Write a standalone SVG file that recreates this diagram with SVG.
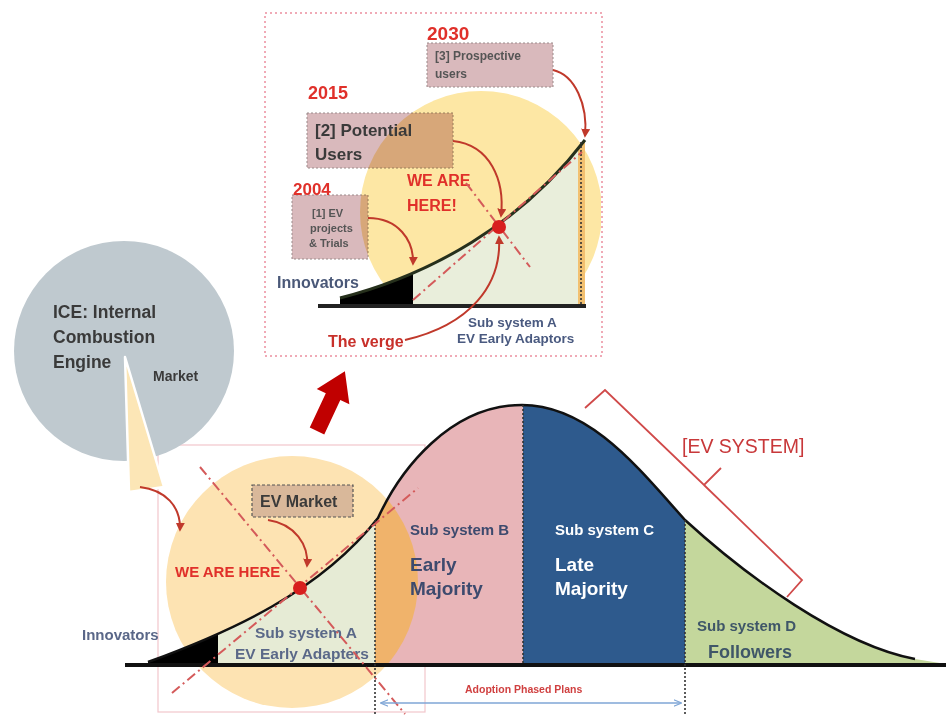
<svg xmlns="http://www.w3.org/2000/svg" xmlns:xlink="http://www.w3.org/1999/xlink" width="946" height="716" viewBox="0 0 946 716">
<style>
text{font-family:"Liberation Sans",Arial,sans-serif;font-weight:bold}
.red{fill:#e0302a}
.dark{fill:#3a3a3a}
.slate{fill:#4a5a80}
.box{fill:#d9b9bc;stroke:#9a8a8a;stroke-width:1;stroke-dasharray:2,2}
.dd{stroke:#d45a5a;stroke-width:2;fill:none;stroke-dasharray:10,4,2,4}
.carrow{stroke:#c0392b;stroke-width:2;fill:none;marker-end:url(#ah)}
.dot{stroke:#333;stroke-width:1.6;stroke-dasharray:2,2;fill:none}
</style>
<defs>
<marker id="ah" viewBox="0 0 10 10" refX="8" refY="5" markerWidth="9" markerHeight="9" markerUnits="userSpaceOnUse" orient="auto">
<path d="M0,0 L10,5 L0,10 z" fill="#c0392b"/>
</marker>
<marker id="ahb" viewBox="0 0 10 10" refX="9" refY="5" markerWidth="8" markerHeight="8" markerUnits="userSpaceOnUse" orient="auto-start-reverse">
<path d="M0,1 L10,5 L0,9" fill="none" stroke="#7fa6d6" stroke-width="1.5"/>
</marker>
<path id="bell" d="M148,662 C230,632 320,592 378,518 C400,470 450,405 522,405 C590,405 640,470 685,520 C745,575 840,645 915,659 L946,664 L946,665 L148,665 Z"/>
<path id="iarea" d="M340,306 L340,298 C430,275 520,225 585,140 L585,306 Z"/>
<clipPath id="bellClip"><use xlink:href="#bell"/></clipPath>
<clipPath id="insetClip"><rect x="266" y="14" width="335" height="291"/></clipPath>
<clipPath id="cInn"><rect x="100" y="380" width="118" height="300"/></clipPath>
<clipPath id="cA"><rect x="218" y="380" width="157" height="300"/></clipPath>
<clipPath id="cB"><rect x="375" y="380" width="148" height="300"/></clipPath>
<clipPath id="cC"><rect x="523" y="380" width="162" height="300"/></clipPath>
<clipPath id="cD"><rect x="685" y="380" width="261" height="300"/></clipPath>
<clipPath id="ciInn"><rect x="330" y="100" width="83" height="210"/></clipPath>
<clipPath id="ciA"><rect x="413" y="100" width="165" height="210"/></clipPath>
<clipPath id="ciO"><rect x="578" y="100" width="8" height="210"/></clipPath>
</defs>

<!-- ===== Inset (top) ===== -->
<g id="inset">
<rect x="265" y="13" width="337" height="343" fill="none" stroke="#ec8e9e" stroke-width="1.5" stroke-dasharray="2,3"/>
<g id="box2"><rect class="box" x="307" y="113" width="146" height="55"/></g>
<g id="box3"><rect class="box" x="427" y="43" width="126" height="44"/></g>
<g id="box1"><rect class="box" x="292" y="195" width="76" height="64"/></g>
<circle cx="481" cy="212" r="121" fill="#fde7a4" style="mix-blend-mode:multiply" clip-path="url(#insetClip)"/>
<use xlink:href="#iarea" fill="#000" clip-path="url(#ciInn)"/>
<use xlink:href="#iarea" fill="#e9eedb" clip-path="url(#ciA)"/>
<use xlink:href="#iarea" fill="#f2c070" clip-path="url(#ciO)"/>
<path d="M340,298 C430,275 520,225 585,140" fill="none" stroke="#26301c" stroke-width="3"/>
<line class="dot" x1="581" y1="142" x2="581" y2="305" stroke-width="2.2"/>
<line x1="318" y1="306" x2="586" y2="306" stroke="#222" stroke-width="4"/>
<text class="red" x="427" y="40" font-size="19">2030</text>
<text class="red" x="308" y="99" font-size="18">2015</text>
<text class="red" x="293" y="195" font-size="17">2004</text>
<text class="dark" x="315" y="136" font-size="17">[2] Potential</text>
<text class="dark" x="315" y="160" font-size="17">Users</text>
<text x="435" y="60" font-size="12" fill="#555">[3] Prospective</text>
<text x="435" y="78" font-size="12" fill="#555">users</text>
<text x="312" y="217" font-size="11" fill="#555">[1] EV</text>
<text x="310" y="232" font-size="11" fill="#555">projects</text>
<text x="309" y="247" font-size="11" fill="#555">&amp; Trials</text>
<text class="red" x="407" y="186" font-size="16">WE ARE</text>
<text class="red" x="407" y="211" font-size="16">HERE!</text>
<text x="277" y="288" font-size="16" fill="#4a5878">Innovators</text>
<text x="328" y="347" font-size="16" fill="#c8302a">The verge</text>
<text class="slate" x="468" y="327" font-size="13.5">Sub system A</text>
<text class="slate" x="457" y="343" font-size="13.5">EV Early Adaptors</text>
<line class="dd" x1="413" y1="300" x2="582" y2="152"/>
<line class="dd" x1="466" y1="183" x2="530" y2="267"/>
<circle cx="499" cy="227" r="7" fill="#d81e1e"/>
<path class="carrow" d="M368,218 C398,218 414,240 413,264"/>
<path class="carrow" d="M453,141 C490,145 505,180 501,216"/>
<path class="carrow" d="M553,70 C575,75 588,105 585,136"/>
<path class="carrow" d="M405,340 C470,325 502,285 499,237"/>
</g>

<!-- big red arrow -->
<g id="bigArrow">
<polygon points="-8,0 8,0 8,-38 18,-38 0,-66 -18,-38 -8,-38" fill="#c00000" transform="translate(317,431) rotate(25)"/>
</g>

<!-- ===== Main diagram ===== -->
<rect x="158" y="445" width="267" height="267" fill="none" stroke="#f2c6cc" stroke-width="1.2"/>

<g id="ice">
<circle cx="124" cy="351" r="110" fill="#bfc9cf"/>
<polygon points="125,357 129,492 164,487" fill="#fce6b6" stroke="#fff" stroke-width="2.5" stroke-linejoin="round"/>
<text class="dark" x="53" y="318" font-size="17.5">ICE: Internal</text>
<text class="dark" x="53" y="343" font-size="17.5">Combustion</text>
<text class="dark" x="53" y="368" font-size="17.5">Engine</text>
<text class="dark" x="153" y="381" font-size="14">Market</text>
</g>

<g id="bellcurve">
<circle cx="292" cy="582" r="126" fill="#fde3b2"/>
<use xlink:href="#bell" fill="#000" clip-path="url(#cInn)"/>
<use xlink:href="#bell" fill="#e6ebd5" clip-path="url(#cA)"/>
<use xlink:href="#bell" fill="#e8b5b8" clip-path="url(#cB)"/>
<use xlink:href="#bell" fill="#2e5a8d" clip-path="url(#cC)"/>
<use xlink:href="#bell" fill="#c4d79c" clip-path="url(#cD)"/>
<g clip-path="url(#cB)"><circle cx="292" cy="582" r="126" fill="#f0b36b" clip-path="url(#bellClip)"/></g>
<path d="M148,662 C230,632 320,592 378,518 C400,470 450,405 522,405 C590,405 640,470 685,520 C745,575 840,645 915,659" fill="none" stroke="#111" stroke-width="2.5"/>
<line x1="125" y1="665" x2="946" y2="665" stroke="#111" stroke-width="4"/>
<line class="dot" x1="375" y1="520" x2="375" y2="716"/>
<line class="dot" x1="523" y1="405" x2="523" y2="665"/>
<line class="dot" x1="685" y1="520" x2="685" y2="716"/>
</g>

<g id="subA">
<text x="255" y="638" font-size="15.5" fill="#4a5a80" fill-opacity="0.9">Sub system A</text>
<text x="235" y="659" font-size="15.5" fill="#4a5a80" fill-opacity="0.9">EV Early Adapters</text>
<text x="82" y="640" font-size="15" fill="#5a6788">Innovators</text>
</g>
<g id="evMarket">
<rect x="252" y="485" width="101" height="32" fill="#d9b89a" stroke="#555" stroke-width="1.2" stroke-dasharray="3,2"/>
<text class="dark" x="260" y="507" font-size="16">EV Market</text>
</g>
<text class="red" x="175" y="577" font-size="15">WE ARE HERE</text>
<g id="subB">
<text x="410" y="535" font-size="15" fill="#3d4a6e">Sub system B</text>
<text x="410" y="571" font-size="19" fill="#3d4a6e">Early</text>
<text x="410" y="595" font-size="19" fill="#3d4a6e">Majority</text>
</g>
<g id="subC">
<text x="555" y="535" font-size="15" fill="#fff">Sub system C</text>
<text x="555" y="571" font-size="19" fill="#fff">Late</text>
<text x="555" y="595" font-size="19" fill="#fff">Majority</text>
</g>
<g id="subD">
<text x="697" y="631" font-size="15" fill="#3f5668">Sub system D</text>
<text x="708" y="658" font-size="18" fill="#3f5668">Followers</text>
</g>
<g id="evSystem">
<path d="M585,408 L605,390 L704,485 L721,468 M704,485 L802,580 L787,597" fill="none" stroke="#d04a4a" stroke-width="1.8"/>
<text x="682" y="453" font-size="19.5" fill="#c8383a" style="font-weight:normal">[EV SYSTEM]</text>
</g>

<g id="connectors">
<line class="dd" x1="200" y1="467" x2="405" y2="714"/>
<line class="dd" x1="172" y1="693" x2="418" y2="488"/>
<circle cx="300" cy="588" r="7" fill="#d81e1e"/>
<path class="carrow" d="M140,487 C165,490 181,506 180,530"/>
<path class="carrow" d="M268,520 C295,524 309,545 307,566"/>
<line x1="381" y1="703" x2="681" y2="703" stroke="#7fa6d6" stroke-width="1.3" marker-start="url(#ahb)" marker-end="url(#ahb)"/>
<text x="465" y="693" font-size="10.5" fill="#d04040">Adoption Phased Plans</text>
</g>
</svg>
